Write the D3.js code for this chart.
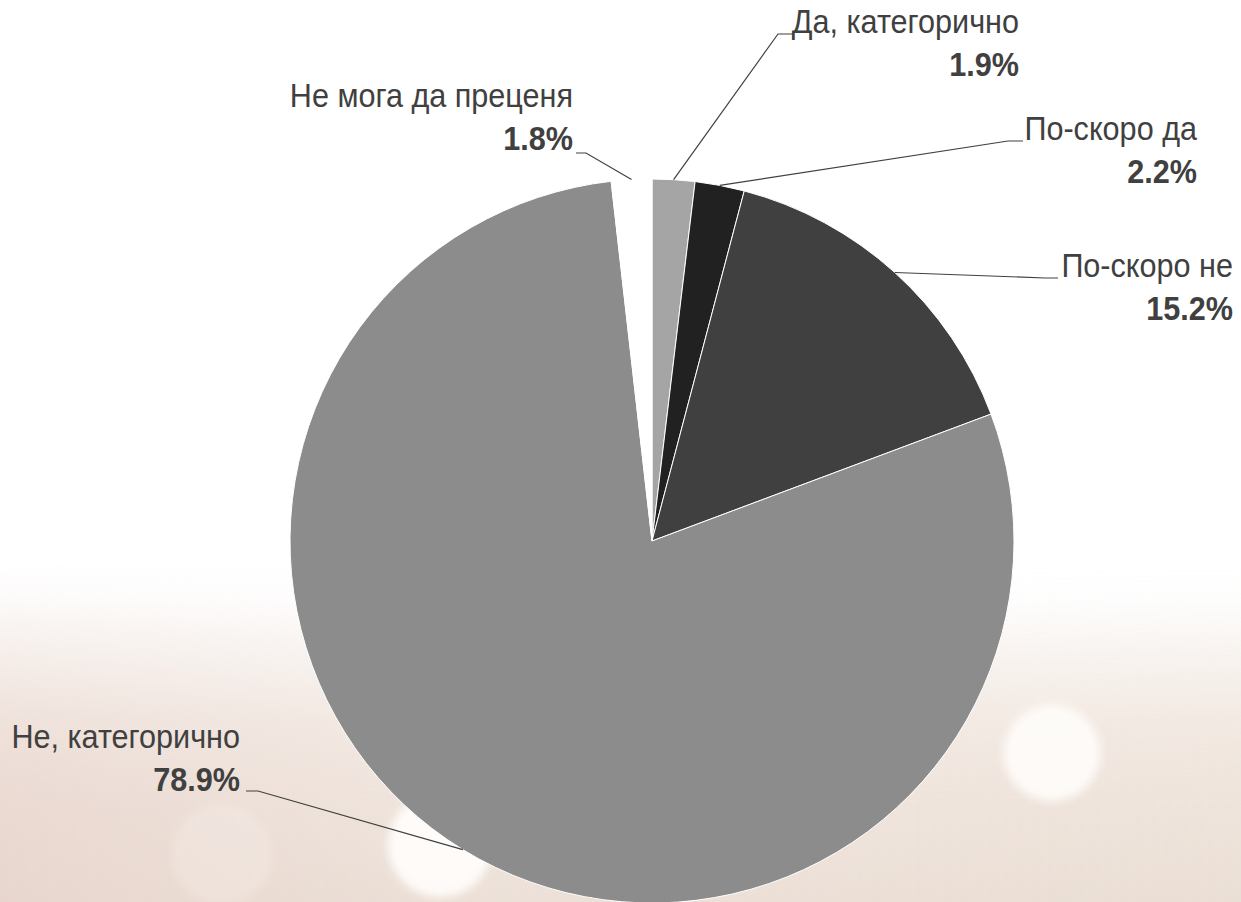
<!DOCTYPE html>
<html>
<head>
<meta charset="utf-8">
<script src="https://d3js.org/d3.v7.min.js"></script>
<style>
  body { margin: 0; padding: 0; background: #fff; }
  #my_dataviz { width: 1241px; height: 902px; }
</style>
</head>
<body>
<div id="my_dataviz"></div>
<script>
var categories = ["Да, категорично", "По-скоро да", "По-скоро не", "Не, категорично", "Не мога да преценя"];
var values = [1.9, 2.2, 15.2, 78.9, 1.8];
var valueLabels = ["1.9%", "2.2%", "15.2%", "78.9%", "1.8%"];
var colors = ["#a5a5a5", "#212121", "#404040", "#8c8c8c", "#ffffff"];

var width = 1241,
  height = 902,
  cx = 652,
  cy = 541,
  radius = 362,
  squeeze = 0.9;

// label layout: text right edge, first baseline, leader elbow and end
var labelPos = [
  {x: 1019, y: 33, elbow: [778, 34], end: [793, 34]},
  {x: 1197, y: 140, elbow: [1008, 141], end: [1023, 141]},
  {x: 1233, y: 277, elbow: [1045, 278], end: [1058, 278]},
  {x: 240, y: 748, elbow: [258, 791], end: [246, 791]},
  {x: 573, y: 107, elbow: [586, 153], end: [576, 153]}
];

var svg = d3.select("#my_dataviz")
.append("svg")
  .attr("width", width)
  .attr("height", height);

var defs = svg.append("defs");

var bg = defs.append("linearGradient")
  .attr("id", "bg")
  .attr("x1", 0).attr("y1", 0)
  .attr("x2", 0).attr("y2", 1);
bg.append("stop").attr("offset", "0").attr("stop-color", "#ffffff");
bg.append("stop").attr("offset", "0.66").attr("stop-color", "#ffffff");
bg.append("stop").attr("offset", "0.8").attr("stop-color", "#f5ede7");
bg.append("stop").attr("offset", "1").attr("stop-color", "#ede2d9");

var side = defs.append("linearGradient")
  .attr("id", "side")
  .attr("x1", 0).attr("y1", 0)
  .attr("x2", 1).attr("y2", 0);
side.append("stop").attr("offset", "0").attr("stop-color", "#e3cbc3").attr("stop-opacity", 0.5);
side.append("stop").attr("offset", "0.4").attr("stop-color", "#e3cbc3").attr("stop-opacity", 0.05);
side.append("stop").attr("offset", "1").attr("stop-color", "#e6d8cb").attr("stop-opacity", 0.25);

var fade = defs.append("linearGradient")
  .attr("id", "fade")
  .attr("x1", 0).attr("y1", 0)
  .attr("x2", 0).attr("y2", 1);
fade.append("stop").attr("offset", "0.62").attr("stop-color", "#fff").attr("stop-opacity", 0);
fade.append("stop").attr("offset", "0.9").attr("stop-color", "#fff").attr("stop-opacity", 1);
var mask = defs.append("mask").attr("id", "sidemask");
mask.append("rect").attr("width", width).attr("height", height).attr("fill", "url(#fade)");

defs.append("filter").attr("id", "blur")
  .attr("x", "-50%").attr("y", "-50%").attr("width", "200%").attr("height", "200%")
  .append("feGaussianBlur").attr("stdDeviation", 4);

svg.append("rect")
  .attr("width", width)
  .attr("height", height)
  .attr("fill", "url(#bg)");
svg.append("rect")
  .attr("width", width)
  .attr("height", height)
  .attr("fill", "url(#side)")
  .attr("mask", "url(#sidemask)");

// soft bokeh spots
var spots = [[1052, 753, 48, 0.9], [440, 845, 52, 0.95], [222, 855, 50, 0.2]];
svg.selectAll(".spot")
  .data(spots)
  .enter()
  .append("circle")
    .attr("class", "spot")
    .attr("cx", function(d) { return d[0]; })
    .attr("cy", function(d) { return d[1]; })
    .attr("r", function(d) { return d[2]; })
    .attr("fill", "#fffdfa")
    .attr("opacity", function(d) { return d[3]; })
    .attr("filter", "url(#blur)");

var pie = d3.pie()
  .sort(null)
  .value(function(d) { return d; });

var arcs = pie(values);

var arc = d3.arc()
  .innerRadius(0)
  .outerRadius(radius);

var edgeArc = d3.arc()
  .innerRadius(radius)
  .outerRadius(radius);

var g = svg.append("g")
  .attr("transform", "translate(" + cx + "," + cy + ")");

g.selectAll("path")
  .data(arcs)
  .enter()
  .append("path")
    .attr("d", arc)
    .style("fill", function(d, i) { return colors[i]; })
    .style("stroke", "#ffffff")
    .style("stroke-width", 1);

// leader lines
svg.selectAll(".leader")
  .data(arcs)
  .enter()
  .append("polyline")
    .attr("class", "leader")
    .attr("points", function(d, i) {
      var p = edgeArc.centroid(d);
      var lp = labelPos[i];
      return [[cx + p[0], cy + p[1]], lp.elbow, lp.end].join(" ");
    })
    .style("fill", "none")
    .style("stroke", "#404040")
    .style("stroke-width", 1.2);

var labels = svg.selectAll(".label")
  .data(categories)
  .enter()
  .append("text")
    .attr("class", "label")
    .attr("text-anchor", "end")
    .attr("transform", function(d, i) {
      return "translate(" + labelPos[i].x + "," + labelPos[i].y + ") scale(" + squeeze + ",1)";
    })
    .style("font-family", "'Liberation Sans Narrow', 'Arial Narrow', 'Liberation Sans', sans-serif")
    .style("font-size", "34px")
    .style("fill", "#404040");

labels.append("tspan")
  .attr("x", 0)
  .attr("y", 0)
  .text(function(d) { return d; });

labels.append("tspan")
  .attr("x", 0)
  .attr("y", 43)
  .style("font-weight", "bold")
  .text(function(d, i) { return valueLabels[i]; });
</script>
</body>
</html>
